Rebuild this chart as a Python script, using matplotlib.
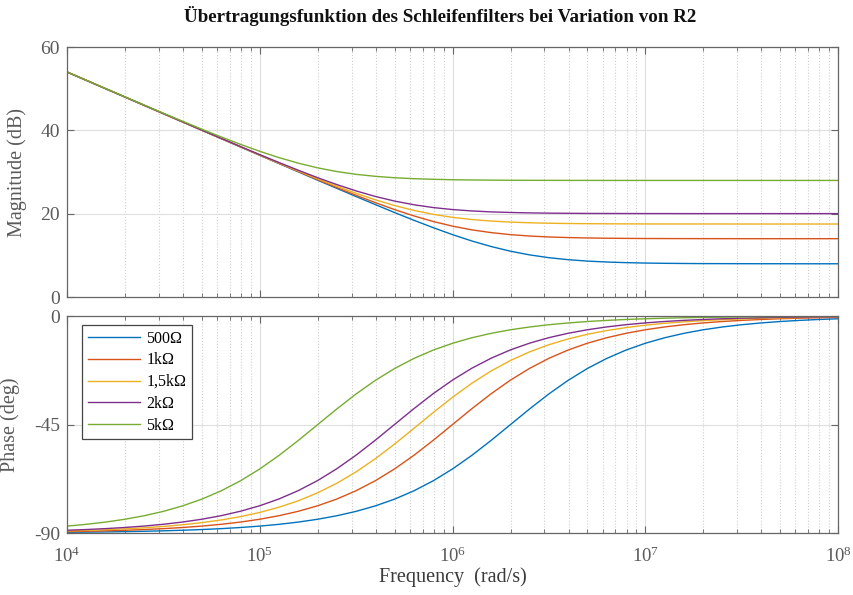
import matplotlib.pyplot as plt
from matplotlib.ticker import LogLocator, NullFormatter, FixedLocator

plt.rcParams['font.family'] = ['Liberation Serif', 'DejaVu Serif']
plt.rcParams['mathtext.fontset'] = 'custom'
plt.rcParams['mathtext.rm'] = 'Liberation Serif'
plt.rcParams['axes.unicode_minus'] = False

# frequency samples (rad/s), 10 per decade
freq = [1.000e4, 1.259e4, 1.585e4, 1.995e4, 2.512e4, 3.162e4, 3.981e4, 5.012e4, 6.310e4, 7.943e4,
        1.000e5, 1.259e5, 1.585e5, 1.995e5, 2.512e5, 3.162e5, 3.981e5, 5.012e5, 6.310e5, 7.943e5,
        1.000e6, 1.259e6, 1.585e6, 1.995e6, 2.512e6, 3.162e6, 3.981e6, 5.012e6, 6.310e6, 7.943e6,
        1.000e7, 1.259e7, 1.585e7, 1.995e7, 2.512e7, 3.162e7, 3.981e7, 5.012e7, 6.310e7, 7.943e7,
        1.000e8]

labels = ['500\u03a9', '1k\u03a9', '1,5k\u03a9', '2k\u03a9', '5k\u03a9']
colors = ['#0072BD', '#D95319', '#EDB120', '#7E2F8E', '#77AC30']

# magnitude in dB
mag_500 = [54.00, 52.00, 50.00, 48.00, 46.00, 44.00, 42.00, 40.00, 38.00, 36.01,
           34.01, 32.02, 30.03, 28.04, 26.07, 24.11, 22.17, 20.26, 18.41, 16.64,
           14.97, 13.45, 12.12, 11.00, 10.11, 9.44, 8.96, 8.62, 8.40, 8.25,
           8.15, 8.09, 8.05, 8.02, 8.01, 8.00, 7.99, 7.99, 7.98, 7.98, 7.98]
mag_1k = [54.00, 52.00, 50.00, 48.00, 46.00, 44.00, 42.01, 40.01, 38.02, 36.03,
          34.04, 32.07, 30.11, 28.17, 26.27, 24.41, 22.64, 20.97, 19.46, 18.12,
          17.01, 16.12, 15.46, 14.97, 14.64, 14.41, 14.27, 14.17, 14.11, 14.07,
          14.04, 14.03, 14.02, 14.01, 14.01, 14.00, 14.00, 14.00, 14.00, 14.00, 14.00]
mag_1k5 = [54.00, 52.00, 50.00, 48.00, 46.01, 44.01, 42.02, 40.02, 38.04, 36.06,
           34.10, 32.15, 30.24, 28.37, 26.58, 24.88, 23.32, 21.95, 20.78, 19.84,
           19.12, 18.60, 18.23, 17.98, 17.82, 17.71, 17.64, 17.60, 17.57, 17.55,
           17.54, 17.53, 17.53, 17.53, 17.53, 17.52, 17.52, 17.52, 17.52, 17.52, 17.52]
mag_2k = [54.00, 52.00, 50.00, 48.01, 46.01, 44.02, 42.03, 40.04, 38.07, 36.11,
          34.17, 32.27, 30.42, 28.64, 26.98, 25.46, 24.13, 23.02, 22.14, 21.47,
          20.99, 20.66, 20.43, 20.29, 20.19, 20.13, 20.09, 20.06, 20.05, 20.04,
          20.03, 20.03, 20.02, 20.02, 20.02, 20.02, 20.02, 20.02, 20.02, 20.02, 20.02]
mag_5k = [54.01, 52.02, 50.03, 48.04, 46.07, 44.11, 42.17, 40.26, 38.41, 36.64,
          34.97, 33.45, 32.12, 31.00, 30.11, 29.44, 28.96, 28.62, 28.40, 28.25,
          28.15, 28.09, 28.05, 28.02, 28.01, 28.00, 27.99, 27.99, 27.98, 27.98,
          27.98, 27.98, 27.98, 27.98, 27.98, 27.98, 27.98, 27.98, 27.98, 27.98, 27.98]

# phase in degrees
ph_500 = [-89.71, -89.64, -89.55, -89.43, -89.28, -89.09, -88.86, -88.56, -88.19, -87.72,
          -87.14, -86.40, -85.47, -84.30, -82.84, -81.02, -78.74, -75.93, -72.49, -68.34,
          -63.43, -57.81, -51.60, -45.07, -38.53, -32.31, -26.67, -21.75, -17.59, -14.13,
          -11.31, -9.03, -7.19, -5.72, -4.55, -3.62, -2.88, -2.28, -1.82, -1.44, -1.15]
ph_1k = [-89.43, -89.28, -89.09, -88.86, -88.56, -88.19, -87.72, -87.13, -86.39, -85.46,
         -84.29, -82.82, -80.99, -78.72, -75.90, -72.45, -68.29, -63.38, -57.75, -51.54,
         -45.00, -38.46, -32.25, -26.62, -21.71, -17.55, -14.10, -11.28, -9.01, -7.18,
         -5.71, -4.54, -3.61, -2.87, -2.28, -1.81, -1.44, -1.14, -0.91, -0.72, -0.57]
ph_1k5 = [-89.14, -88.92, -88.64, -88.29, -87.84, -87.28, -86.58, -85.70, -84.59, -83.21,
          -81.47, -79.31, -76.63, -73.34, -69.36, -64.62, -59.16, -53.07, -46.58, -40.01,
          -33.69, -27.90, -22.81, -18.48, -14.86, -11.90, -9.51, -7.58, -6.03, -4.80,
          -3.81, -3.03, -2.41, -1.91, -1.52, -1.21, -0.96, -0.76, -0.61, -0.48, -0.38]
ph_2k = [-88.85, -88.56, -88.18, -87.71, -87.12, -86.38, -85.45, -84.28, -82.81, -80.97,
         -78.69, -75.87, -72.41, -68.25, -63.33, -57.69, -51.47, -44.93, -38.40, -32.19,
         -26.57, -21.66, -17.51, -14.07, -11.26, -8.98, -7.16, -5.70, -4.53, -3.60,
         -2.86, -2.27, -1.81, -1.44, -1.14, -0.91, -0.72, -0.57, -0.45, -0.36, -0.29]
ph_5k = [-87.14, -86.40, -85.47, -84.30, -82.84, -81.02, -78.74, -75.93, -72.49, -68.34,
         -63.43, -57.81, -51.60, -45.07, -38.53, -32.31, -26.67, -21.75, -17.59, -14.13,
         -11.31, -9.03, -7.19, -5.72, -4.55, -3.62, -2.88, -2.28, -1.82, -1.44,
         -1.15, -0.91, -0.72, -0.57, -0.46, -0.36, -0.29, -0.23, -0.18, -0.14, -0.11]

mags = [mag_500, mag_1k, mag_1k5, mag_2k, mag_5k]
phases = [ph_500, ph_1k, ph_1k5, ph_2k, ph_5k]

fig = plt.figure(figsize=(8.54, 5.95), dpi=100)
ax1 = fig.add_axes([0.0785, 0.5008, 0.9028, 0.4202])
ax2 = fig.add_axes([0.0785, 0.1042, 0.9028, 0.3647])

axcol = '#666666'
for ax in (ax1, ax2):
    ax.set_xscale('log')
    ax.set_xlim(1e4, 1e8)
    ax.xaxis.set_major_locator(LogLocator(base=10, numticks=10))
    ax.xaxis.set_minor_locator(LogLocator(base=10, subs=range(2, 10), numticks=20))
    ax.xaxis.set_minor_formatter(NullFormatter())
    ax.grid(which='major', color='#dedede', linewidth=0.8)
    ax.grid(which='minor', axis='x', color='#cfcfcf', linestyle=':', linewidth=0.8)
    ax.set_axisbelow(True)
    ax.tick_params(which='both', direction='in', top=True, right=True,
                   colors=axcol, labelcolor='#5a5a5a', labelsize=14, pad=5)
    ax.tick_params(which='major', length=5)
    ax.tick_params(which='minor', length=3)
    for s in ax.spines.values():
        s.set_color(axcol)
        s.set_linewidth(0.9)

for m, c in zip(mags, colors):
    ax1.plot(freq, m, color=c, linewidth=1.0)
ax1.set_ylim(0, 60)
ax1.yaxis.set_major_locator(FixedLocator([0, 20, 40, 60]))
ax1.tick_params(axis='x', labelbottom=False)
ax1.set_ylabel('Magnitude (dB)', fontsize=14.5, color='#5a5a5a')
ax1.yaxis.set_label_coords(-0.052, 0.5)

for p, c, lab in zip(phases, colors, labels):
    ax2.plot(freq, p, color=c, linewidth=1.0, label=lab)
ax2.set_ylim(-90, 0)
ax2.yaxis.set_major_locator(FixedLocator([-90, -45, 0]))
ax2.tick_params(axis='x', labelsize=13.5, pad=10)
ax2.set_ylabel('Phase (deg)', fontsize=14.5, color='#5a5a5a')
ax2.yaxis.set_label_coords(-0.061, 0.5)
ax2.set_xlabel('Frequency  (rad/s)', fontsize=14.5, color='#3a3a3a', labelpad=1)

leg = ax2.legend(loc='upper left', bbox_to_anchor=(0.0195, 0.9585), borderaxespad=0,
                 fontsize=11.5, handlelength=3.25, handletextpad=0.42, borderpad=0.35,
                 labelspacing=0.36, fancybox=False, framealpha=1)
leg.get_frame().set_edgecolor('#444444')
leg.get_frame().set_linewidth(0.9)

fig.text(0.515, 0.973, '\u00dcbertragungsfunktion des Schleifenfilters bei Variation von R2',
         ha='center', va='center', fontsize=13.7, fontweight='bold', color='#111111')

fig.savefig('out.png', dpi=100)
